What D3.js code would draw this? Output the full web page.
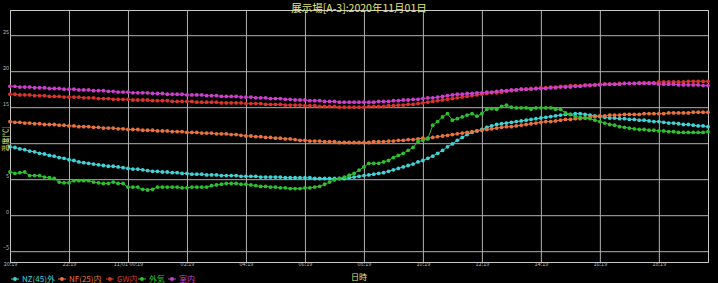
<!DOCTYPE html>
<html><head><meta charset="utf-8">
<script src="https://cdn.jsdelivr.net/npm/d3@7"></script>
<style>
html,body{margin:0;padding:0;background:#000;}
svg{display:block;}
text{font-family:"Noto Sans CJK JP","Noto Sans",sans-serif;}
</style></head>
<body><svg id="c" width="718" height="283"></svg>
<script>
const title = "展示場[A-3]:2020年11月01日";
const xTitle = "日時";
const yTitle = "温度[℃]";
const startTime = "2020-10-31T20:19:00";
const stepMinutes = 10;
const xTickLabels = ["20:19","22:19","11/01 00:19","02:19","04:19","06:19","08:19","10:19","12:19","14:19","16:19","18:19"];
const yTicks = [-5,0,5,10,15,20,25];
const seriesNames = ["NZ(45)外","NF(25)内","GW内","外気","室内"];
const seriesColors = ["#3fd3d6","#e8733c","#d8342c","#2ec12e","#cf3fcf"];

const nz45 = [9.5,9.4,9.2,9.1,8.9,8.8,8.6,8.5,8.3,8.2,8.0,7.9,7.7,7.6,7.4,
7.3,7.2,7.1,7.0,6.9,6.8,6.8,6.7,6.6,6.5,6.4,6.4,6.3,6.2,6.1,6.1,6.0,
6.0,5.9,5.9,5.8,5.8,5.7,5.7,5.7,5.6,5.6,5.6,5.5,5.5,5.5,5.5,5.4,
5.4,5.4,5.4,5.3,5.3,5.3,5.3,5.3,5.2,5.2,5.2,5.2,5.2,5.2,5.1,5.1,5.1,5.1,5.1,5.1,5.1,
5.2,5.3,5.4,5.5,5.6,5.7,5.8,
5.9,6.1,6.3,6.5,6.7,6.9,7.1,7.4,
7.6,7.9,8.2,8.6,9.0,9.5,9.9,10.4,
10.8,11.2,11.5,11.7,11.9,12.2,12.4,12.6,12.7,
12.8,12.9,13.0,13.1,13.2,13.3,13.4,13.5,13.6,13.7,13.8,13.9,
14.0,14.0,14.1,14.1,14.0,13.9,13.8,
13.7,13.6,13.5,13.5,13.4,13.4,13.3,13.3,13.2,13.2,13.1,13.0,13.0,
12.9,12.8,12.8,12.7,12.6,12.6,12.5,12.4,12.4,12.3];

const nf25 = [13.0,12.9,12.9,12.8,12.8,12.7,12.7,12.6,12.6,12.6,12.5,12.5,12.4,12.4,12.3,12.3,12.3,12.2,12.2,12.1,12.1,12.1,12.0,
12.0,11.9,11.9,11.9,11.8,11.8,11.8,11.7,11.7,11.7,11.6,11.6,11.6,11.5,11.5,11.5,11.4,11.4,11.4,11.3,11.3,11.3,11.2,11.2,11.1,
11.0,11.0,10.9,10.9,10.8,10.8,10.7,10.7,10.6,10.6,10.5,10.4,
10.4,10.3,10.3,10.3,10.2,10.2,10.2,10.1,10.1,10.1,10.1,10.1,10.1,10.1,10.2,10.2,
10.2,10.3,10.3,10.4,10.4,10.5,10.5,10.6,
10.7,10.7,10.8,10.9,11.0,11.1,11.2,11.3,11.4,11.5,11.6,11.7,
11.8,11.9,12.0,12.1,12.2,12.3,12.3,12.4,12.5,12.6,12.7,12.8,12.9,
13.0,13.0,13.1,13.2,13.3,13.3,13.4,13.4,13.5,13.6,13.7,13.8,
13.8,13.9,13.9,13.9,14.0,14.0,14.0,14.0,14.1,14.1,14.1,14.1,14.1,14.2,14.2,14.2,14.2,14.2,14.3,14.3,14.3,14.3];

const gw = [16.8,16.8,16.7,16.7,16.7,16.6,16.6,16.6,16.5,16.5,16.5,16.4,16.4,16.4,16.4,16.3,16.3,16.3,16.2,16.2,16.2,16.1,16.1,
16.1,16.1,16.0,16.0,16.0,16.0,15.9,15.9,15.9,15.9,15.8,15.8,15.8,15.8,15.8,15.7,15.7,15.7,15.7,15.7,15.6,15.6,15.6,15.6,15.6,
15.5,15.5,15.5,15.5,15.4,15.4,15.4,15.4,15.3,15.3,15.3,15.3,
15.2,15.2,15.2,15.1,15.1,15.1,15.1,15.0,15.0,15.0,15.0,15.0,15.0,15.1,15.1,15.1,
15.1,15.2,15.2,15.3,15.3,15.4,15.4,15.5,
15.6,15.7,15.8,15.9,16.0,16.1,16.2,16.3,16.4,16.5,16.6,16.7,
16.8,16.9,17.0,17.0,17.1,17.2,17.3,17.4,17.5,17.5,17.6,17.6,17.7,
17.7,17.8,17.8,17.9,17.9,18.0,18.0,18.0,18.1,18.1,18.1,18.2,
18.2,18.2,18.2,18.3,18.3,18.3,18.3,18.4,18.4,18.4,18.4,18.5,18.5,18.5,18.5,18.5,18.5,18.6,18.6,18.6,18.6,18.6];

const outside = [6.0,5.8,5.9,6.0,5.5,5.5,5.5,5.3,5.2,5.1,4.6,4.5,4.5,4.8,4.8,4.8,4.8,4.6,4.5,4.4,4.4,4.6,4.4,4.4,3.9,3.9,3.9,3.6,3.5,3.6,3.9,3.9,3.9,3.9,3.9,3.8,3.8,3.9,3.9,3.9,3.9,4.1,4.2,4.3,4.4,4.4,
4.4,4.3,4.3,4.2,4.1,4.0,4.0,3.9,3.9,3.8,3.8,3.7,3.7,3.7,3.8,3.8,3.9,4.0,4.3,4.6,4.9,
5.1,5.3,5.55,5.8,6.25,6.7,7.2,7.2,7.2,7.4,7.6,8.0,8.3,8.6,9.0,9.4,10.2,10.4,10.6,
12.5,13.0,13.65,14.1,13.2,13.4,13.65,13.9,14.1,13.75,14.1,14.7,14.8,14.7,15.1,15.3,15.0,14.9,14.9,14.9,14.7,14.9,14.9,14.9,14.9,14.7,14.7,14.2,14.0,13.7,
13.6,13.5,13.4,13.2,13.0,12.8,12.6,12.5,12.3,12.2,12.1,12.0,11.9,11.9,11.8,11.8,11.7,11.7,11.6,11.6,11.5,11.5,11.5,11.5,11.5,11.5,11.6];

const room = [17.9,17.9,17.8,17.8,17.8,17.7,17.7,17.7,17.6,17.6,17.6,17.5,17.5,17.5,17.4,17.4,17.4,17.3,17.3,17.3,17.2,17.2,17.1,
17.1,17.1,17.0,17.0,17.0,17.0,16.9,16.9,16.9,16.8,16.8,16.8,16.8,16.7,16.7,16.7,16.7,16.6,16.6,16.6,16.5,16.5,16.5,16.5,16.4,
16.4,16.4,16.3,16.3,16.3,16.2,16.2,16.2,16.1,16.1,16.0,16.0,
16.0,15.9,15.9,15.9,15.8,15.8,15.8,15.7,15.7,15.7,15.7,15.7,15.7,15.7,15.7,15.8,
15.8,15.8,15.9,15.9,16.0,16.0,16.1,16.1,
16.2,16.3,16.3,16.4,16.5,16.6,16.7,16.8,16.8,16.9,16.9,17.0,
17.0,17.1,17.1,17.2,17.3,17.3,17.4,17.4,17.5,17.5,17.5,17.6,17.6,
17.6,17.7,17.7,17.8,17.8,17.8,17.9,17.9,18.0,18.0,18.1,18.1,
18.2,18.2,18.2,18.2,18.3,18.3,18.3,18.3,18.3,18.3,18.3,18.2,18.2,18.2,18.2,18.1,18.1,18.1,18.1,18.1,18.0,18.0];

const seriesValues = [nz45, nf25, gw, outside, room];

const svg = d3.select("#c");
const W = 718, H = 283;
const m = {left:10, right:10, top:10, bottom:21};
const t0 = new Date(startTime);
const n = nz45.length;
const times = d3.range(n).map(i => new Date(t0.getTime() + i*stepMinutes*60000));
const x = d3.scaleTime().domain([times[0], times[n-1]]).range([m.left, W - m.right]);
const y = d3.scaleLinear().domain([-6.5, 28.5]).range([H - m.bottom, m.top]);

const tickTimes = xTickLabels.map((d,i) => new Date(t0.getTime() + i*2*3600000));

// grid
const gx = svg.append("g").attr("transform",`translate(0,${H-m.bottom})`)
  .call(d3.axisBottom(x).tickValues(tickTimes).tickSize(-(H-m.bottom-m.top)).tickFormat((d,i)=>xTickLabels[i]));
gx.select(".domain").attr("stroke","#c8c8c8");
gx.selectAll(".tick line").attr("stroke","#b0b0b0").attr("stroke-width",1);
gx.selectAll(".tick text").attr("fill","#bbb").attr("font-size","5.5px").attr("dy","0.2em").attr("y",3);

const gy = svg.append("g").attr("transform",`translate(${m.left},0)`)
  .call(d3.axisLeft(y).tickValues(yTicks).tickSize(-(W-m.left-m.right)).tickFormat(d3.format("d")));
gy.select(".domain").attr("stroke","#c8c8c8");
gy.selectAll(".tick line").attr("stroke","#b0b0b0").attr("stroke-width",1);
gy.selectAll(".tick text").attr("fill","#bbb").attr("font-size","5.5px").attr("x",-1).attr("dy","-0.25em");

// series
seriesValues.forEach((vals, si) => {
  const data = vals.map((v,i)=>({t:times[i], v}));
  const line = d3.line().x(d=>x(d.t)).y(d=>y(d.v));
  svg.append("path").datum(data).attr("d",line).attr("fill","none")
    .attr("stroke",seriesColors[si]).attr("stroke-width",1);
  svg.append("g").selectAll("circle").data(data).join("circle")
    .attr("cx",d=>x(d.t)).attr("cy",d=>y(d.v)).attr("r",1.9)
    .attr("fill",seriesColors[si]);
});

// titles
svg.append("text").attr("x",359).attr("y",12).attr("text-anchor","middle")
  .attr("fill","#e6e67a").attr("font-size","10.5px").text(title);
svg.append("text").attr("x",359).attr("y",280).attr("text-anchor","middle")
  .attr("fill","#e6e67a").attr("font-size","8px").text(xTitle);
svg.append("text").attr("transform","translate(8,139) rotate(-90)").attr("text-anchor","middle")
  .attr("fill","#e6e67a").attr("font-size","7px").text(yTitle);

// legend
const legX = [15,62,110,142,172];
const lg = svg.append("g");
seriesNames.forEach((name, i) => {
  const g = lg.append("g").attr("transform",`translate(${legX[i]},279)`);
  g.append("line").attr("x1",-4).attr("x2",4).attr("y1",0).attr("y2",0).attr("stroke",seriesColors[i]).attr("stroke-width",1);
  g.append("circle").attr("r",1.9).attr("fill",seriesColors[i]);
  g.append("text").attr("x",7).attr("y",3).attr("fill",seriesColors[i]).attr("font-size","8px").text(name);
});
</script></body></html>
